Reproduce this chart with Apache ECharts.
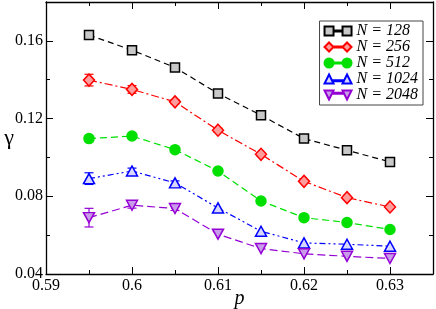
<!DOCTYPE html>
<html><head><meta charset="utf-8">
<script src="https://cdn.jsdelivr.net/npm/echarts@6/dist/echarts.min.js"></script>
<style>html,body{margin:0;padding:0;background:#fff}#c{width:436px;height:309px}</style>
</head><body><div id="c"></div>
<script>
var pValues = [0.595, 0.6, 0.605, 0.61, 0.615, 0.62, 0.625, 0.63];
var seriesNames = ['N = 128', 'N = 256', 'N = 512', 'N = 1024', 'N = 2048'];
var gamma128  = [0.163, 0.1552, 0.1463, 0.1329, 0.1217, 0.1097, 0.1037, 0.0977];
var gamma256  = [0.1398, 0.135, 0.1286, 0.114, 0.1016, 0.0877, 0.0793, 0.0745];
var gamma512  = [0.1097, 0.111, 0.104, 0.093, 0.0776, 0.069, 0.0665, 0.0629];
var gamma1024 = [0.0891, 0.093, 0.0869, 0.074, 0.062, 0.056, 0.0553, 0.0543];
var gamma2048 = [0.069, 0.0754, 0.0737, 0.0605, 0.0531, 0.0504, 0.0491, 0.048];
var err128  = [0, 0, 0, 0, 0, 0, 0, 0];
var err256  = [0.003, 0.002, 0.001, 0.001, 0.0008, 0, 0, 0];
var err512  = [0.0015, 0.001, 0, 0, 0, 0, 0, 0];
var err1024 = [0.003, 0.0015, 0.001, 0, 0, 0, 0, 0];
var err2048 = [0.0048, 0.0015, 0.001, 0, 0, 0, 0, 0];
var xTicks = [0.59, 0.6, 0.61, 0.62, 0.63];
var yTicks = [0.04, 0.08, 0.12, 0.16];

var allGamma = [gamma128, gamma256, gamma512, gamma1024, gamma2048];
var allErr = [err128, err256, err512, err1024, err2048];
var colors = ['#000000', '#ff0000', '#00e000', '#0000ff', '#9400d3'];
var fills = ['#c8c8c8', '#ff9c9c', '#00e000', '#d8d8ff', '#c89ce8'];
var symbols = ['rect', 'diamond', 'circle', 'triangle', 'triangle'];
var rotates = [0, 0, 0, 0, 180];
var sizes = [[9, 9], [11, 12], [10, 10], [11, 10], [11, 10]];
var dashes = [[6, 4], [8, 3, 2, 3], [7, 4], [6, 3, 2, 3, 2, 3], [8, 4]];
var legendIcons = [
  'path://M0,0h10v10h-10z M20,0h10v10h-10z M10,4.5h10v1h-10z',
  'path://M5,0L10,5L5,10L0,5Z M25,0L30,5L25,10L20,5Z M10,4.5h10v1h-10z',
  'path://M0,5a5,5 0 1,0 10,0a5,5 0 1,0 -10,0Z M20,5a5,5 0 1,0 10,0a5,5 0 1,0 -10,0Z M10,4.5h10v1h-10z',
  'path://M5,0L10,10L0,10Z M25,0L30,10L20,10Z M9,6.5h12v1h-12z',
  'path://M0,0L10,0L5,10Z M20,0L30,0L25,10Z M9,2.5h12v1h-12z'
];
var font = 'Liberation Serif';

var series = [];
for (var s = 0; s < 5; s++) {
  (function (s) {
    var pts = pValues.map(function (p, i) { return [p, allGamma[s][i]]; });
    var errPts = pValues.map(function (p, i) { return [p, allGamma[s][i], allErr[s][i]]; });
    series.push({
      type: 'custom', name: seriesNames[s] + ' err', silent: true, z: 2,
      data: errPts,
      renderItem: function (params, api) {
        var e = api.value(2);
        if (!e) return null;
        var x = api.value(0), y = api.value(1);
        var top = api.coord([x, y + e]), bot = api.coord([x, y - e]);
        var hw = 4.5;
        var st = { stroke: colors[s], lineWidth: 1.2 };
        return { type: 'group', children: [
          { type: 'line', shape: { x1: top[0], y1: top[1], x2: bot[0], y2: bot[1] }, style: st },
          { type: 'line', shape: { x1: top[0] - hw, y1: top[1], x2: top[0] + hw, y2: top[1] }, style: st },
          { type: 'line', shape: { x1: bot[0] - hw, y1: bot[1], x2: bot[0] + hw, y2: bot[1] }, style: st }
        ]};
      }
    });
    series.push({
      type: 'line', name: seriesNames[s], data: pts, z: 3,
      symbol: symbols[s], symbolSize: sizes[s], symbolRotate: rotates[s],
      showAllSymbol: true,
      lineStyle: { color: colors[s], width: 1.2, type: dashes[s] },
      itemStyle: { color: fills[s], borderColor: colors[s], borderWidth: 1.5 },
      emphasis: { disabled: true }
    });
  })(s);
}

var axisLine = { show: true, lineStyle: { color: '#000', width: 1.3 } };
var chart = echarts.init(document.getElementById('c'));
chart.setOption({
  animation: false,
  grid: { left: 46, right: 3, top: 2, bottom: 35, outerBoundsMode: 'none', containLabel: false },
  legend: {
    data: seriesNames.map(function (n, i) { return { name: n, icon: legendIcons[i] }; }),
    orient: 'vertical', right: 13, top: 21,
    borderColor: '#444', borderWidth: 1, padding: [2, 5, 2, 4],
    itemGap: 0, itemWidth: 27, itemHeight: 9,
    textStyle: { fontFamily: font, fontStyle: 'italic', fontSize: 16, lineHeight: 14, color: '#000' }
  },
  xAxis: [{
    type: 'value', min: 0.59, max: 0.635, interval: 0.01,
    name: 'p', nameLocation: 'middle', nameGap: 15, nameMoveOverlap: false,
    nameTextStyle: { fontFamily: font, fontStyle: 'italic', fontSize: 20, color: '#000' },
    axisLine: axisLine,
    axisTick: { inside: true, length: 7, lineStyle: { color: '#000' } },
    minorTick: { show: true, splitNumber: 2, length: 4, lineStyle: { color: '#000' } },
    splitLine: { show: false },
    axisLabel: { fontFamily: font, fontSize: 16, color: '#000', margin: 4,
      formatter: function (v) { var r = Math.round(v * 100) / 100; return xTicks.indexOf(r) >= 0 ? String(r) : ''; } }
  }, {
    type: 'value', position: 'top', min: 0.59, max: 0.635, interval: 0.01,
    axisLine: axisLine,
    axisTick: { inside: true, length: 7, lineStyle: { color: '#000' } },
    minorTick: { show: true, splitNumber: 2, length: 4, lineStyle: { color: '#000' } },
    splitLine: { show: false }, axisLabel: { show: false }
  }],
  yAxis: [{
    type: 'value', min: 0.04, max: 0.18, interval: 0.04,
    name: 'γ', nameLocation: 'middle', nameGap: 32, nameRotate: 0, nameMoveOverlap: false,
    nameTextStyle: { fontFamily: font, fontSize: 22, color: '#000' },
    axisLine: axisLine,
    axisTick: { inside: true, length: 7, lineStyle: { color: '#000' } },
    minorTick: { show: true, splitNumber: 2, length: 4, lineStyle: { color: '#000' } },
    splitLine: { show: false },
    axisLabel: { fontFamily: font, fontSize: 16, color: '#000', margin: 3,
      formatter: function (v) { var r = Math.round(v * 100) / 100; return yTicks.indexOf(r) >= 0 ? r.toFixed(2) : ''; } }
  }, {
    type: 'value', position: 'right', min: 0.04, max: 0.18, interval: 0.04,
    axisLine: axisLine,
    axisTick: { inside: true, length: 7, lineStyle: { color: '#000' } },
    minorTick: { show: true, splitNumber: 2, length: 4, lineStyle: { color: '#000' } },
    splitLine: { show: false }, axisLabel: { show: false }
  }],
  series: series
});
</script></body></html>
